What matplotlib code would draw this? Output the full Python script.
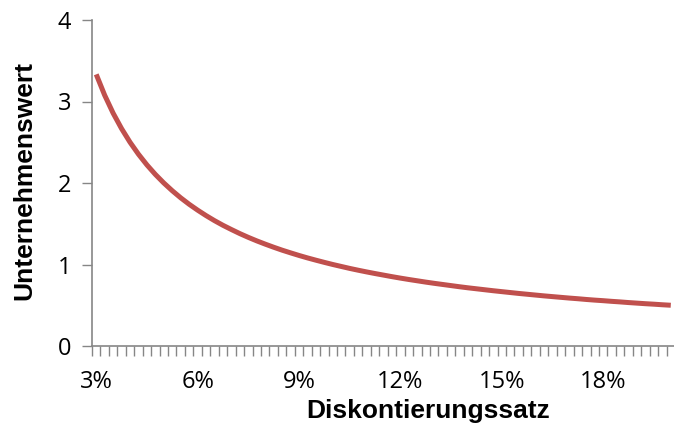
import matplotlib
matplotlib.use("Agg")
import matplotlib.pyplot as plt
from matplotlib.ticker import FixedLocator, FuncFormatter

# discount rate in percent, one category every 0.25 %
rates = [3.00, 3.25, 3.50, 3.75, 4.00, 4.25, 4.50, 4.75, 5.00, 5.25, 5.50, 5.75,
         6.00, 6.25, 6.50, 6.75, 7.00, 7.25, 7.50, 7.75, 8.00, 8.25, 8.50, 8.75,
         9.00, 9.25, 9.50, 9.75, 10.00, 10.25, 10.50, 10.75, 11.00, 11.25, 11.50, 11.75,
         12.00, 12.25, 12.50, 12.75, 13.00, 13.25, 13.50, 13.75, 14.00, 14.25, 14.50, 14.75,
         15.00, 15.25, 15.50, 15.75, 16.00, 16.25, 16.50, 16.75, 17.00, 17.25, 17.50, 17.75,
         18.00, 18.25, 18.50, 18.75, 19.00, 19.25, 19.50, 19.75, 20.00]
# company value at each rate
values = [3.333, 3.077, 2.857, 2.667, 2.500, 2.353, 2.222, 2.105, 2.000, 1.905, 1.818, 1.739,
          1.667, 1.600, 1.538, 1.481, 1.429, 1.379, 1.333, 1.290, 1.250, 1.212, 1.176, 1.143,
          1.111, 1.081, 1.053, 1.026, 1.000, 0.976, 0.952, 0.930, 0.909, 0.889, 0.870, 0.851,
          0.833, 0.816, 0.800, 0.784, 0.769, 0.755, 0.741, 0.727, 0.714, 0.702, 0.690, 0.678,
          0.667, 0.656, 0.645, 0.635, 0.625, 0.615, 0.606, 0.597, 0.588, 0.580, 0.571, 0.563,
          0.556, 0.548, 0.541, 0.533, 0.526, 0.519, 0.513, 0.506, 0.500]
label_rates = [3, 6, 9, 12, 15, 18]
y_ticks = [0, 1, 2, 3, 4]

step = 0.25
axis_grey = "#868686"

fig = plt.figure(figsize=(6.74, 4.28), dpi=100)
ax = fig.add_axes([92 / 674, 82 / 428, 583 / 674, 326 / 428])

ax.plot(rates, values, color="#C0504D", linewidth=3.6,
        solid_capstyle="butt", solid_joinstyle="round")

ax.set_xlim(rates[0] - step / 2, rates[-1] + step / 2)
ax.set_ylim(0, 4)

# tick marks sit between categories, labels sit on the categories
bounds = [r - step / 2 for r in rates] + [rates[-1] + step / 2]
ax.xaxis.set_major_locator(FixedLocator(label_rates))
ax.xaxis.set_major_formatter(FuncFormatter(lambda v, p: f"{v:.0f}%"))
ax.xaxis.set_minor_locator(FixedLocator(bounds))
ax.tick_params(axis="x", which="major", length=0, pad=17)
ax.tick_params(axis="x", which="minor", length=7, width=1, color=axis_grey, direction="out")

ax.set_yticks(y_ticks)
ax.tick_params(axis="y", length=7, width=1, color=axis_grey, direction="out", pad=8)

for lbl in ax.get_xticklabels() + ax.get_yticklabels():
    lbl.set_fontfamily("Open Sans")
    lbl.set_fontsize(17)

for side in ["top", "right"]:
    ax.spines[side].set_visible(False)
for side in ["left", "bottom"]:
    ax.spines[side].set_color(axis_grey)
    ax.spines[side].set_linewidth(1.2)

ax.set_xlabel("Diskontierungssatz", fontfamily="Liberation Sans", fontweight="bold",
              fontsize=19)
ax.set_ylabel("Unternehmenswert", fontfamily="Liberation Sans", fontweight="bold",
              fontsize=19)
ax.xaxis.set_label_coords(0.576, -0.163)
ax.yaxis.set_label_coords(-0.096, 0.509)

fig.savefig("out.png", dpi=100)
